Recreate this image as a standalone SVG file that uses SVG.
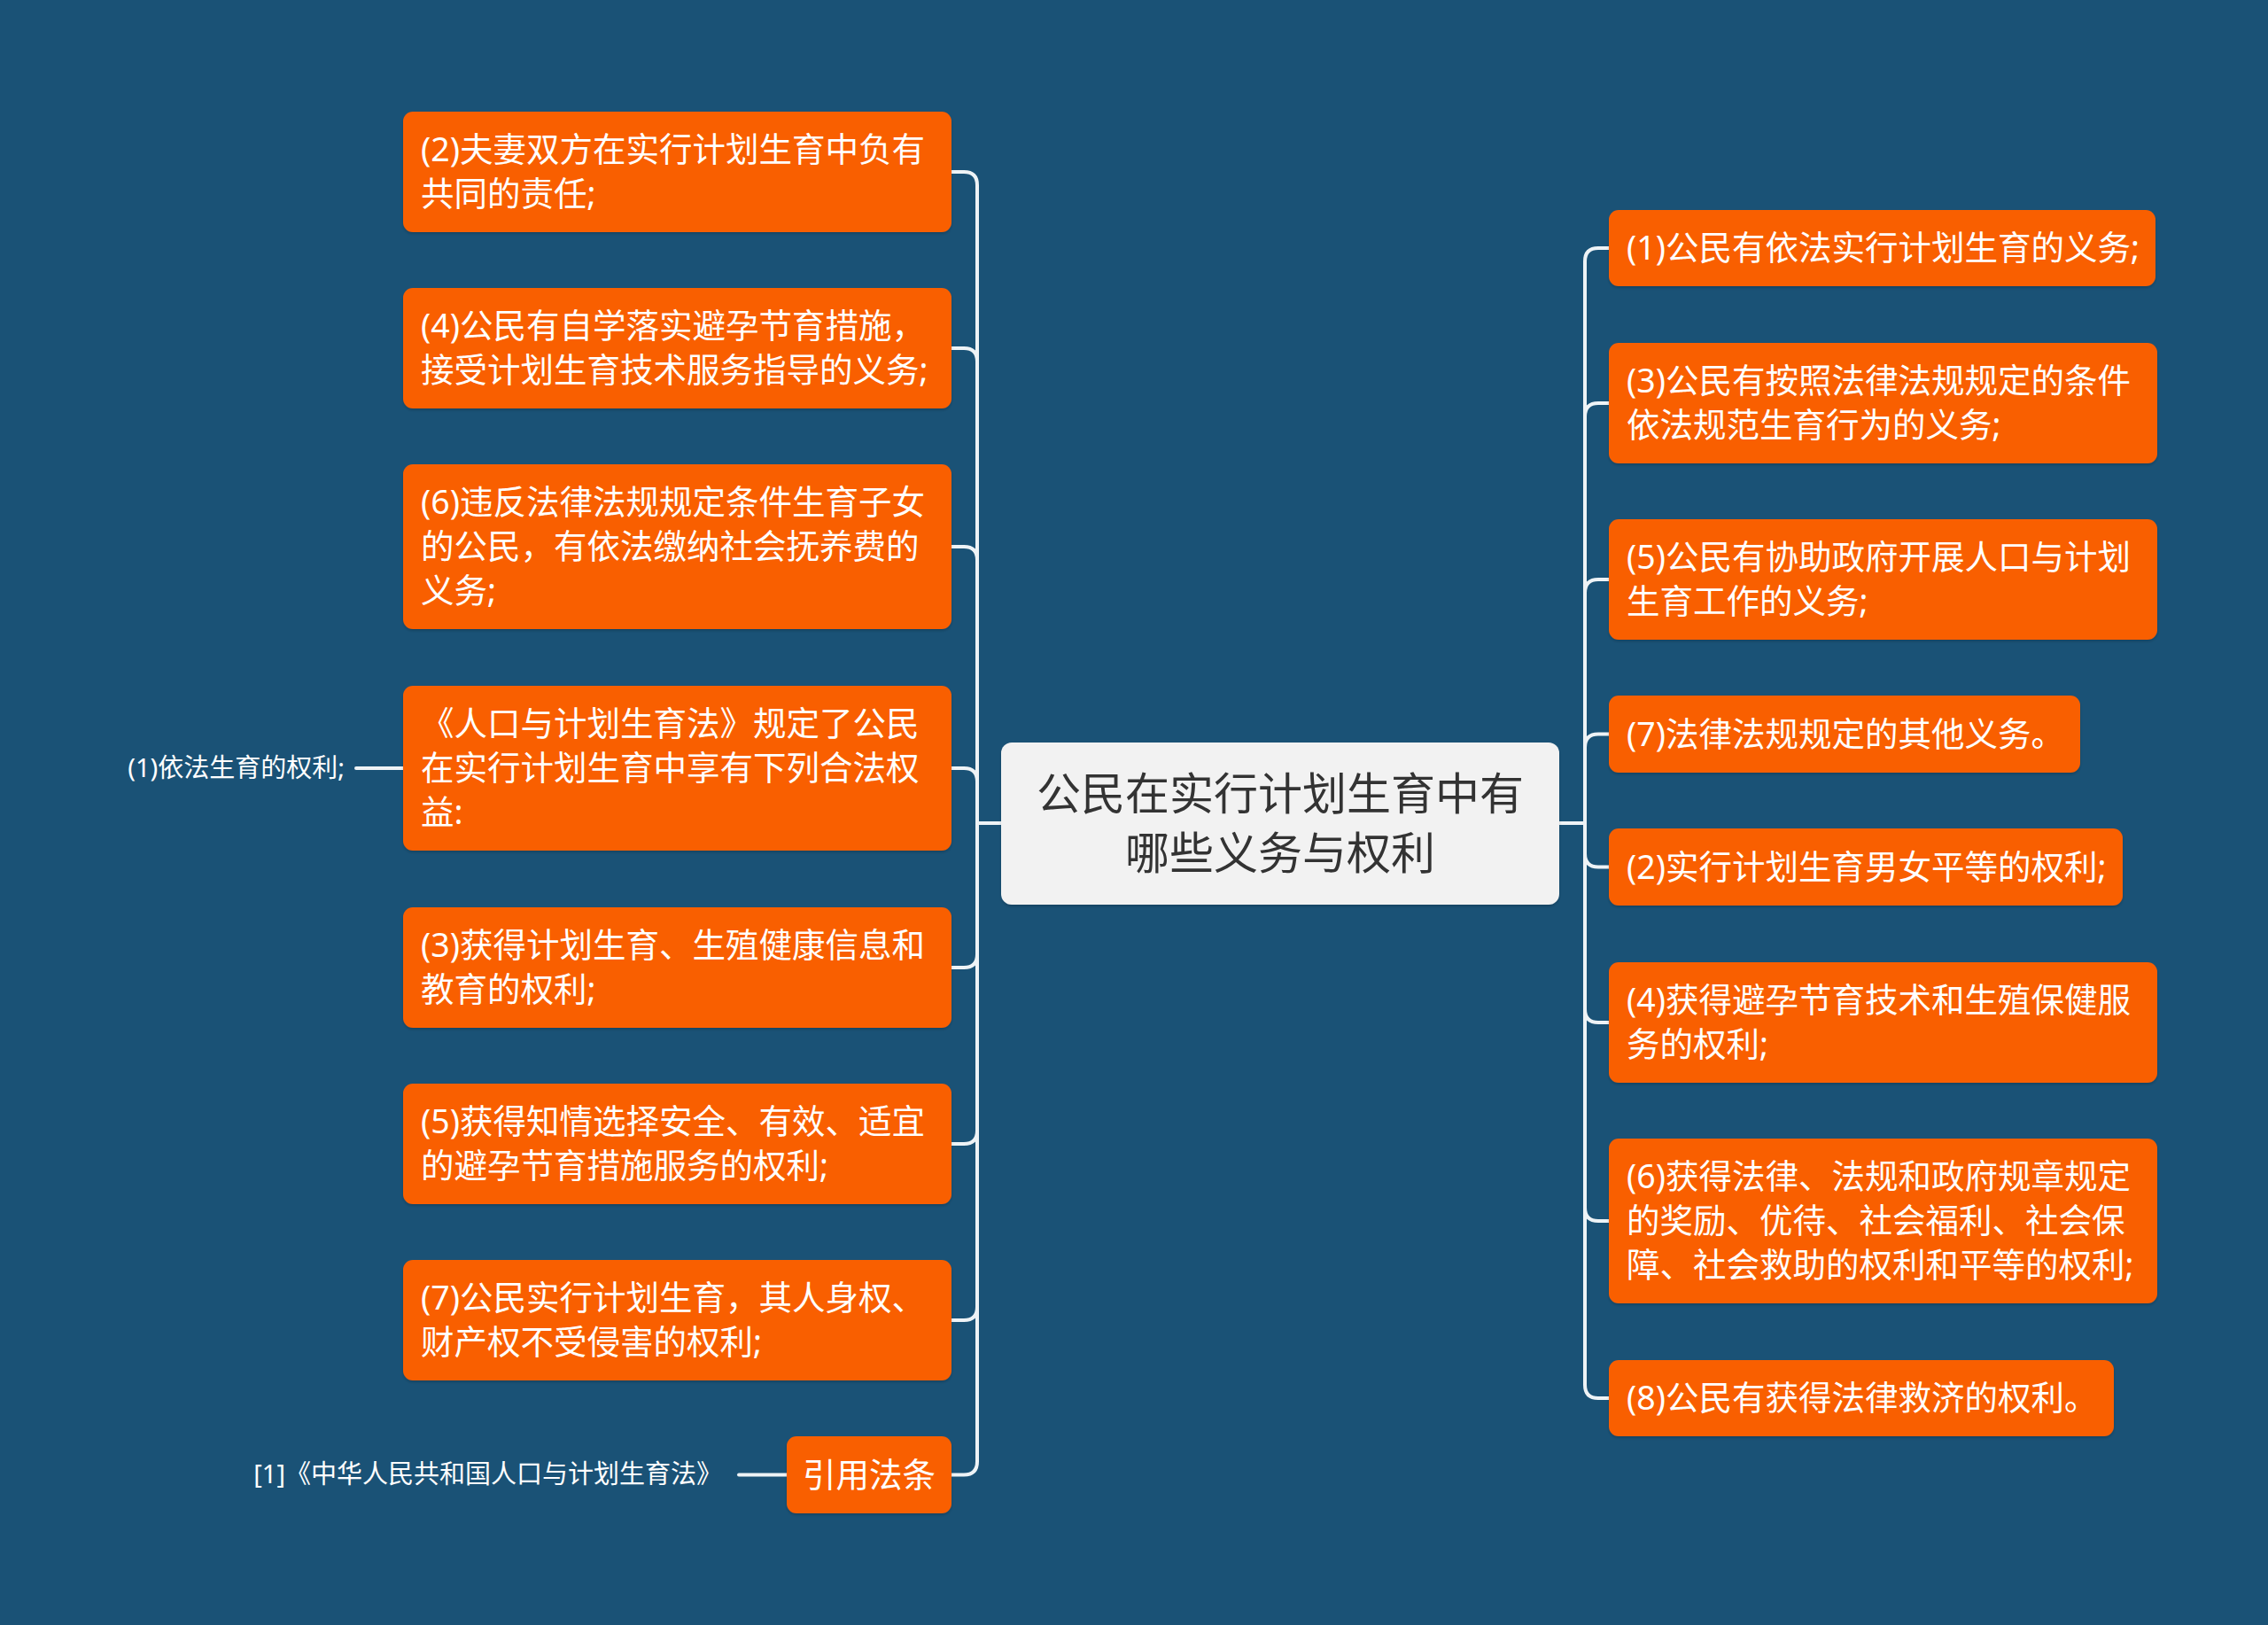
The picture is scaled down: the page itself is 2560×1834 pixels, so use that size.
<svg xmlns="http://www.w3.org/2000/svg" width="2560" height="1834" viewBox="0 0 2560 1834">
<defs>
<style>
.bg{fill:#1a5276}
.box{fill:#f95e04}
.root{fill:#f2f2f2}
.t{font-family:"Noto Sans","Noto Sans CJK SC",sans-serif;font-size:37.5px;fill:#ffffff}
.rt{font-family:"Noto Sans","Noto Sans CJK SC",sans-serif;font-size:50px;fill:#333333;text-anchor:middle}
.lbl{font-family:"Noto Sans","Noto Sans CJK SC",sans-serif;font-size:29px;fill:#ffffff;text-anchor:end}
.c{fill:none;stroke:#eef3f6;stroke-width:4;stroke-linecap:round}
</style>
<filter id="sh" x="-5%" y="-5%" width="110%" height="120%">
<feDropShadow dx="0" dy="2" stdDeviation="1.5" flood-color="#000" flood-opacity="0.18"/>
</filter>
</defs>
<rect class="bg" x="0" y="0" width="2560" height="1834"/>
<g id="connectors">
<path class="c" d="M1074,194 H1088 Q1103,194 1103,209 V1649.5 Q1103,1664.5 1088,1664.5 H1074"/>
<path class="c" d="M1074,393 H1088 Q1103,393 1103,408"/>
<path class="c" d="M1074,617 H1088 Q1103,617 1103,632"/>
<path class="c" d="M1074,867 H1088 Q1103,867 1103,882"/>
<path class="c" d="M1074,1092 H1088 Q1103,1092 1103,1077"/>
<path class="c" d="M1074,1291 H1088 Q1103,1291 1103,1276"/>
<path class="c" d="M1074,1490 H1088 Q1103,1490 1103,1475"/>
<path class="c" d="M1103,929 H1130"/>
<path class="c" d="M1816,280 H1804 Q1789,280 1789,295 V1563 Q1789,1578 1804,1578 H1816"/>
<path class="c" d="M1816,455 H1804 Q1789,455 1789,470"/>
<path class="c" d="M1816,654 H1804 Q1789,654 1789,669"/>
<path class="c" d="M1816,828.5 H1804 Q1789,828.5 1789,843.5"/>
<path class="c" d="M1816,978.5 H1804 Q1789,978.5 1789,963.5"/>
<path class="c" d="M1816,1154 H1804 Q1789,1154 1789,1139"/>
<path class="c" d="M1816,1378 H1804 Q1789,1378 1789,1363"/>
<path class="c" d="M1760,929 H1789"/>
<path class="c" d="M402,867 H455"/>
<path class="c" d="M834,1664.5 H888"/>
</g>
<g id="root">
<rect class="root" x="1130" y="838" width="630" height="183" rx="12" filter="url(#sh)"/>
<text class="rt" x="1445" y="914">公民在实行计划生育中有</text>
<text class="rt" x="1445" y="981">哪些义务与权利</text>
</g>
<g id="L1">
<rect class="box" x="455" y="126" width="619" height="136" rx="11" filter="url(#sh)"/>
<text class="t" x="475" y="182">(2)夫妻双方在实行计划生育中负有</text>
<text class="t" x="475" y="232">共同的责任;</text>
</g>
<g id="L2">
<rect class="box" x="455" y="325" width="619" height="136" rx="11" filter="url(#sh)"/>
<text class="t" x="475" y="381">(4)公民有自学落实避孕节育措施，</text>
<text class="t" x="475" y="431">接受计划生育技术服务指导的义务;</text>
</g>
<g id="L3">
<rect class="box" x="455" y="524" width="619" height="186" rx="11" filter="url(#sh)"/>
<text class="t" x="475" y="580">(6)违反法律法规规定条件生育子女</text>
<text class="t" x="475" y="630">的公民，有依法缴纳社会抚养费的</text>
<text class="t" x="475" y="680">义务;</text>
</g>
<g id="L4">
<rect class="box" x="455" y="774" width="619" height="186" rx="11" filter="url(#sh)"/>
<text class="t" x="475" y="830">《人口与计划生育法》规定了公民</text>
<text class="t" x="475" y="880">在实行计划生育中享有下列合法权</text>
<text class="t" x="475" y="930">益:</text>
</g>
<g id="L4c">
<text class="lbl" x="389" y="877">(1)依法生育的权利;</text>
</g>
<g id="L5">
<rect class="box" x="455" y="1024" width="619" height="136" rx="11" filter="url(#sh)"/>
<text class="t" x="475" y="1080">(3)获得计划生育、生殖健康信息和</text>
<text class="t" x="475" y="1130">教育的权利;</text>
</g>
<g id="L6">
<rect class="box" x="455" y="1223" width="619" height="136" rx="11" filter="url(#sh)"/>
<text class="t" x="475" y="1279">(5)获得知情选择安全、有效、适宜</text>
<text class="t" x="475" y="1329">的避孕节育措施服务的权利;</text>
</g>
<g id="L7">
<rect class="box" x="455" y="1422" width="619" height="136" rx="11" filter="url(#sh)"/>
<text class="t" x="475" y="1478">(7)公民实行计划生育，其人身权、</text>
<text class="t" x="475" y="1528">财产权不受侵害的权利;</text>
</g>
<g id="L8">
<rect class="box" x="888" y="1621" width="186" height="87" rx="11" filter="url(#sh)"/>
<text class="t" x="981" y="1678" text-anchor="middle">引用法条</text>
</g>
<g id="L8c">
<text class="lbl" x="815" y="1674">[1]《中华人民共和国人口与计划生育法》</text>
</g>
<g id="R1">
<rect class="box" x="1816" y="237" width="617" height="86" rx="11" filter="url(#sh)"/>
<text class="t" x="1836" y="293">(1)公民有依法实行计划生育的义务;</text>
</g>
<g id="R2">
<rect class="box" x="1816" y="387" width="619" height="136" rx="11" filter="url(#sh)"/>
<text class="t" x="1836" y="443">(3)公民有按照法律法规规定的条件</text>
<text class="t" x="1836" y="493">依法规范生育行为的义务;</text>
</g>
<g id="R3">
<rect class="box" x="1816" y="586" width="619" height="136" rx="11" filter="url(#sh)"/>
<text class="t" x="1836" y="642">(5)公民有协助政府开展人口与计划</text>
<text class="t" x="1836" y="692">生育工作的义务;</text>
</g>
<g id="R4">
<rect class="box" x="1816" y="785" width="532" height="87" rx="11" filter="url(#sh)"/>
<text class="t" x="1836" y="842">(7)法律法规规定的其他义务。</text>
</g>
<g id="R5">
<rect class="box" x="1816" y="935" width="580" height="87" rx="11" filter="url(#sh)"/>
<text class="t" x="1836" y="992">(2)实行计划生育男女平等的权利;</text>
</g>
<g id="R6">
<rect class="box" x="1816" y="1086" width="619" height="136" rx="11" filter="url(#sh)"/>
<text class="t" x="1836" y="1142">(4)获得避孕节育技术和生殖保健服</text>
<text class="t" x="1836" y="1192">务的权利;</text>
</g>
<g id="R7">
<rect class="box" x="1816" y="1285" width="619" height="186" rx="11" filter="url(#sh)"/>
<text class="t" x="1836" y="1341">(6)获得法律、法规和政府规章规定</text>
<text class="t" x="1836" y="1391">的奖励、优待、社会福利、社会保</text>
<text class="t" x="1836" y="1441">障、社会救助的权利和平等的权利;</text>
</g>
<g id="R8">
<rect class="box" x="1816" y="1535" width="570" height="86" rx="11" filter="url(#sh)"/>
<text class="t" x="1836" y="1591">(8)公民有获得法律救济的权利。</text>
</g>
</svg>
